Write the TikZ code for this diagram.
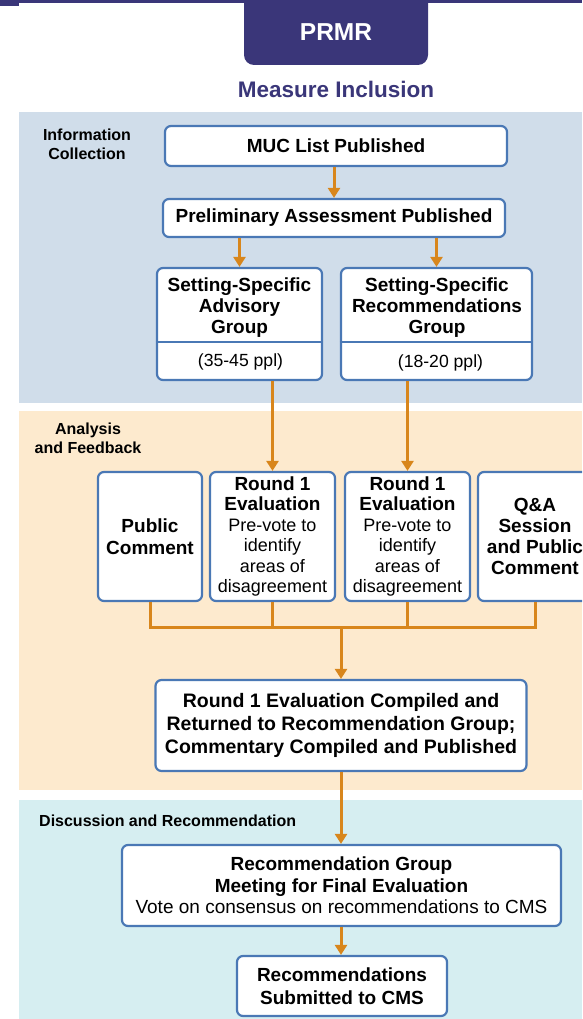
\documentclass[tikz,border=0pt]{standalone}
\usepackage{fontspec}
\setmainfont{Liberation Sans}
\usetikzlibrary{arrows.meta}
\definecolor{navy}{HTML}{3A3679}
\definecolor{infobg}{HTML}{D0DDEA}
\definecolor{anabg}{HTML}{FDEACE}
\definecolor{discbg}{HTML}{D6EEF1}
\definecolor{boxline}{HTML}{4A78B5}
\definecolor{flow}{HTML}{D8861C}
\newcommand\boldline[1]{{\bfseries\fontsize{19}{20.4}\selectfont #1}}

\begin{document}
\begin{tikzpicture}[x=1pt,y=-1pt,
  box/.style={draw=boxline, line width=2.2pt, fill=white, rounded corners=6pt,
    inner sep=0pt, align=center, font=\bfseries\fontsize{19}{21.5}\selectfont},
  evalbox/.style={box, minimum width=125, minimum height=129, font=\fontsize{18}{20.4}\selectfont},
  plain/.style={inner sep=0pt, align=center},
  flowline/.style={draw=flow, line width=3pt},
  flowarrow/.style={flowline, -{Triangle[width=12pt,length=10pt]}},
  lbl/.style={font=\bfseries\fontsize{16}{19}\selectfont, align=center, inner sep=0pt}
]
\useasboundingbox (0,0) rectangle (582,1019);
\clip (0,0) rectangle (582,1019);
\fill[white] (0,0) rectangle (582,1019);

% header strip and tab
\fill[navy] (0,0) rectangle (582,3);
\fill[navy] (0,0) rectangle (19,6);
\fill[navy, rounded corners=10pt] (244,-12) rectangle (428,65);
\node[plain, text=white, font=\bfseries\fontsize{24.5}{28}\selectfont] (prmr) at (336,32) {PRMR};
\node[plain, text=navy, font=\bfseries\fontsize{22.5}{26}\selectfont] (title) at (336,89) {Measure Inclusion};

% phase bands
\fill[infobg] (19,112) rectangle (582,403);
\fill[anabg] (19,411) rectangle (582,790);
\fill[discbg] (19,800) rectangle (582,1019);

\node[lbl] (lInfo) at (87,144.5) {Information\\Collection};
\node[lbl] (lAna) at (88,438.5) {Analysis\\and Feedback};
\node[lbl, anchor=west] (lDisc) at (39,821) {Discussion and Recommendation};

% information collection
\node[box, minimum width=342, minimum height=40] (muc) at (336,146) {MUC List Published};
\node[box, minimum width=342, minimum height=38] (prelim) at (334,218) {Preliminary Assessment Published};

\node[box, minimum width=165, minimum height=112] (ssag) at (239.5,324) {};
\node[box, minimum width=191, minimum height=112] (ssrg) at (436.5,324) {};
\draw[draw=boxline, line width=2.2pt] (ssag.west |- 0,342) -- (ssag.east |- 0,342);
\draw[draw=boxline, line width=2.2pt] (ssrg.west |- 0,342) -- (ssrg.east |- 0,342);
\node[plain, font=\bfseries\fontsize{19}{21}\selectfont] (ssagT) at (239.5,308) {Setting-Specific\\Advisory\\Group};
\node[plain, font=\bfseries\fontsize{19}{21}\selectfont] (ssrgT) at (437,308) {Setting-Specific\\Recommendations\\Group};
\node[plain, font=\fontsize{17.6}{20}\selectfont] (ssagN) at (240.5,362) {(35-45 ppl)};
\node[plain, font=\fontsize{17.6}{20}\selectfont] (ssrgN) at (440.5,363) {(18-20 ppl)};

% analysis and feedback
\node[box, minimum width=104, minimum height=129, font=\bfseries\fontsize{19}{22}\selectfont] (pub) at (150,536.5) {Public\\Comment};
\node[evalbox] (evA) at (272.5,536.5)
  {\boldline{Round 1}\\\boldline{Evaluation}\\Pre-vote to\\identify\\areas of\\disagreement};
\node[evalbox] (evB) at (407.5,536.5)
  {\boldline{Round 1}\\\boldline{Evaluation}\\Pre-vote to\\identify\\areas of\\disagreement};
\node[box, minimum width=114, minimum height=129, font=\bfseries\fontsize{19}{21.3}\selectfont] (qa) at (535,536.5) {Q\&A\\Session\\and Public\\Comment};

\node[box, minimum width=371, minimum height=91, font=\bfseries\fontsize{19.5}{23}\selectfont] (comp) at (341,725.5)
  {Round 1 Evaluation Compiled and\\Returned to Recommendation Group;\\Commentary Compiled and Published};

% discussion and recommendation
\node[box, minimum width=439, minimum height=81, font=\bfseries\fontsize{19}{21.5}\selectfont] (rg) at (341.5,885.5)
  {Recommendation Group\\Meeting for Final Evaluation\\\mdseries Vote on consensus on recommendations to CMS};
\node[box, minimum width=210, minimum height=60, font=\bfseries\fontsize{19}{22.5}\selectfont] (fin) at (342,986)
  {Recommendations\\Submitted to CMS};

% connectors
\draw[flowarrow] (prelim.north |- muc.south) -- (prelim.north);
\draw[flowarrow] (ssag.north |- prelim.south) -- (ssag.north);
\draw[flowarrow] (ssrg.north |- prelim.south) -- (ssrg.north);
\draw[flowarrow] (evA.north |- ssag.south) -- (evA.north);
\draw[flowarrow] (evB.north |- ssrg.south) -- (evB.north);

\coordinate (join) at (341,627);
\draw[flowline] (pub.south) -- (pub.south |- join) -- (qa.south |- join) -- (qa.south);
\draw[flowline] (evA.south) -- (evA.south |- join);
\draw[flowline] (evB.south) -- (evB.south |- join);
\draw[flowarrow] (join) -- (comp.north);
\draw[flowarrow] (comp.south) -- (comp.south |- rg.north);
\draw[flowarrow] (rg.south -| comp.south) -- (comp.south |- fin.north);
\end{tikzpicture}
\end{document}
